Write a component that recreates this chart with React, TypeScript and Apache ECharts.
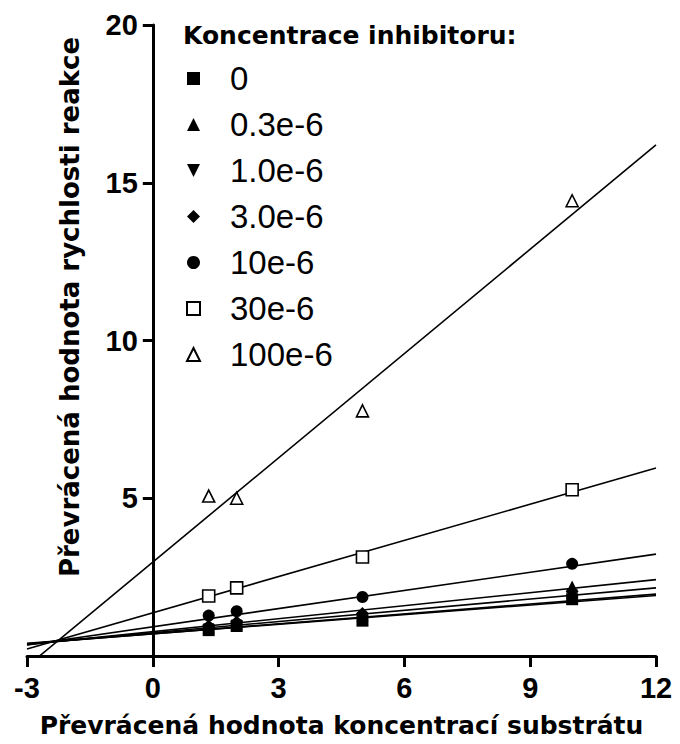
import React, { useEffect, useRef } from "react";
import * as echarts from "echarts";

// substrate reciprocal concentrations (x)
const xValues = [1.333, 2, 5, 10];

const seriesNames = ["0", "0.3e-6", "1.0e-6", "3.0e-6", "10e-6", "30e-6", "100e-6"];

// measured reciprocal rates for each inhibitor concentration
const y0 = [0.82, 0.95, 1.12, 1.8];
const y03 = [0.9, 1.02, 1.28, 2.2];
const y1 = [0.86, 0.98, 1.22, 1.95];
const y3 = [0.95, 1.08, 1.35, 2.05];
const y10 = [1.28, 1.42, 1.87, 2.92];
const y30 = [1.9, 2.16, 3.14, 5.27];
const y100 = [5.07, 5.0, 7.77, 14.43];
const pointValues = [y0, y03, y1, y3, y10, y30, y100];

// fitted lines: y read at x = -3 and at x = 12
const lineX = [-3, 12];
const lineStartY = [0.40, 0.39, 0.38, 0.36, 0.35, 0.22, -0.33];
const lineEndY = [1.92, 1.96, 2.16, 2.42, 3.23, 5.96, 16.2];

const xTicks = { min: -3, max: 12, interval: 3 };
const yTicks = { min: 0, max: 20, interval: 5 };

const downTri = "path://M0,0 L10,0 L5,10 Z";
const symbols = ["rect", "triangle", downTri, "diamond", "circle", "rect", "triangle"];
const openMarker = [false, false, false, false, false, true, true];
const symbolSizes = [12, 12, 11, 13, 12, 12, 12];

const GRID_LEFT = 27;
const GRID_RIGHT = 24;

export default function App() {
  const ref = useRef<HTMLDivElement>(null);
  useEffect(() => {
    if (!ref.current) return;
    const chart = echarts.init(ref.current, undefined, { renderer: "svg" });
    const plotW = 680 - GRID_LEFT - GRID_RIGHT;
    const zeroOffset = ((0 - xTicks.min) / (xTicks.max - xTicks.min)) * plotW;
    const lineSeries = lineStartY.map((s, i) => ({
      type: "line",
      name: "fit" + i,
      data: [
        [lineX[0], s],
        [lineX[1], lineEndY[i]],
      ],
      symbol: "none",
      silent: true,
      clip: true,
      z: 2,
      lineStyle: { color: "#000", width: 1.6 },
    }));
    const pointSeries = seriesNames.map((name, i) => ({
      type: "scatter",
      name,
      data: xValues.map((x, j) => [x, pointValues[i][j]]),
      symbol: symbols[i],
      symbolSize: symbolSizes[i],
      z: 5,
      itemStyle: openMarker[i]
        ? { color: "#fff", borderColor: "#000", borderWidth: 1.6, opacity: 1 }
        : { color: "#000", opacity: 1 },
    }));
    chart.setOption({
      animation: false,
      backgroundColor: "#fff",
      title: {
        text: "Koncentrace inhibitoru:",
        left: 178,
        top: 18,
        textStyle: { fontFamily: "DejaVu Sans", fontWeight: "bold", fontSize: 25, color: "#000" },
      },
      legend: {
        orient: "vertical",
        left: 181,
        top: 57,
        data: seriesNames,
        itemWidth: 13,
        itemHeight: 13,
        itemGap: 13,
        selectedMode: false,
        textStyle: {
          fontFamily: "Liberation Sans",
          fontSize: 33,
          lineHeight: 33,
          color: "#000",
          padding: [0, 0, 0, 25],
        },
      },
      grid: { left: GRID_LEFT, right: GRID_RIGHT, top: 25, bottom: 88, containLabel: false, outerBoundsMode: "none" },
      xAxis: {
        type: "value",
        ...xTicks,
        name: "Převrácená hodnota koncentrací substrátu",
        nameLocation: "middle",
        nameGap: 57,
        nameTextStyle: { fontFamily: "DejaVu Sans", fontWeight: "bold", fontSize: 25, color: "#000" },
        axisLine: { show: true, onZero: false, lineStyle: { color: "#000", width: 3 } },
        axisTick: { show: true, length: 11, lineStyle: { color: "#000", width: 3 } },
        axisLabel: {
          fontFamily: "Liberation Sans",
          fontWeight: "bold",
          fontSize: 29,
          color: "#000",
          margin: 17,
        },
        splitLine: { show: false },
      },
      yAxis: {
        type: "value",
        ...yTicks,
        offset: -zeroOffset,
        axisLine: { show: true, onZero: false, lineStyle: { color: "#000", width: 3 } },
        axisTick: { show: true, length: 10, lineStyle: { color: "#000", width: 3 } },
        axisLabel: {
          fontFamily: "Liberation Sans",
          fontWeight: "bold",
          fontSize: 29,
          color: "#000",
          margin: 15,
          formatter: (v: number) => (v === 0 ? "" : String(v)),
        },
        splitLine: { show: false },
      },
      graphic: [
        {
          type: "text",
          x: 70,
          y: 307,
          rotation: Math.PI / 2,
          style: {
            text: "Převrácená hodnota rychlosti reakce",
            font: "bold 26px 'DejaVu Sans'",
            fill: "#000",
            textAlign: "center",
            textVerticalAlign: "middle",
          },
        },
      ],
      series: [...lineSeries, ...pointSeries],
    });
    return () => chart.dispose();
  }, []);
  return <div ref={ref} style={{ width: 680, height: 744, position: "absolute", left: 0, top: 0 }} />;
}
